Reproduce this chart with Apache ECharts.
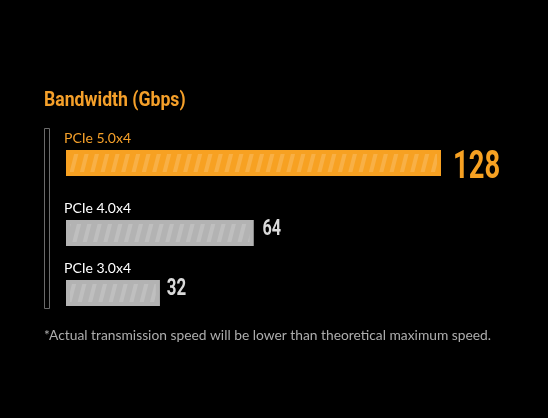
<!DOCTYPE html>
<html>
<head>
<meta charset="utf-8">
<script src="https://cdn.jsdelivr.net/npm/echarts@6/dist/echarts.min.js"></script>
<style>
html,body{margin:0;padding:0;background:#000;}
#c{width:548px;height:418px;}
</style>
</head>
<body>
<div id="c"></div>
<script>
const titleText = 'Bandwidth (Gbps)';
const noteText = '*Actual transmission speed will be lower than theoretical maximum speed.';
const categories = ['PCIe 5.0x4', 'PCIe 4.0x4', 'PCIe 3.0x4'];
const values = [128, 64, 32];
const axisMax = 128;

// styles / layout (not data)
const barColors = ['#F7A122', '#B3B3B3', '#B3B3B3'];
const nameColors = ['#F5A02A', '#FFFFFF', '#FFFFFF'];
const valueColors = ['#F7A122', '#DADADA', '#DADADA'];
const valueSizes = [38, 22.5, 23.5];
const valueGaps = [10, 7, 5];
const valueDy = [5, -4, -4];
const gridTops = [148, 218, 278];
const narrowScale = 0.72;

const chart = echarts.init(document.getElementById('c'));
const grids = [], xAxes = [], yAxes = [], series = [];
categories.forEach((cat, i) => {
  grids.push({left: 66, right: 107, top: gridTops[i], height: 30});
  xAxes.push({type: 'value', gridIndex: i, min: 0, max: axisMax, show: false});
  yAxes.push({
    type: 'category', gridIndex: i, data: [cat],
    axisLine: {show: false}, axisTick: {show: false}, axisLabel: {show: false},
    splitLine: {show: false},
    name: cat, nameLocation: 'end', nameGap: 3,
    nameTextStyle: {align: 'left', verticalAlign: 'bottom', color: nameColors[i],
      fontSize: 14, fontFamily: 'Lato', padding: [0, 0, 0, -2]}
  });
  series.push({
    type: 'bar', xAxisIndex: i, yAxisIndex: i, data: [values[i]],
    barWidth: 26, silent: true, animation: false,
    itemStyle: {
      color: barColors[i], borderColor: barColors[i], borderWidth: 4,
      decal: {
        symbol: 'rect', symbolSize: 1,
        dashArrayX: [4, 6], dashArrayY: [20, 0],
        rotation: 0.25,
        color: 'rgba(255,255,255,0.16)'
      }
    }
  });
  // value label, placed through the axis scale, drawn condensed
  series.push({
    type: 'custom', xAxisIndex: i, yAxisIndex: i, silent: true, animation: false,
    data: [[values[i], 0]],
    renderItem: function (params, api) {
      const p = api.coord([api.value(0), api.value(1)]);
      return {
        type: 'text',
        x: p[0] + 2 + valueGaps[i],
        y: p[1] + valueDy[i],
        scaleX: narrowScale,
        style: {
          text: String(api.value(0)),
          font: 'bold ' + valueSizes[i] + 'px Roboto',
          fill: valueColors[i],
          verticalAlign: 'middle',
          align: 'left'
        }
      };
    }
  });
});

chart.setOption({
  backgroundColor: '#000',
  animation: false,
  aria: {enabled: true, decal: {show: true}},
  title: [
    {text: noteText, left: 39, top: 324,
      textStyle: {color: '#ADADAD', fontSize: 13.8, fontWeight: 'normal', fontFamily: 'Lato'}}
  ],
  graphic: [
    {type: 'text', x: 44, y: 101, scaleX: 0.84, silent: true,
      style: {text: titleText, font: 'bold 21px Roboto', fill: '#F5A02A',
        verticalAlign: 'middle', align: 'left'}},
    {type: 'rect', shape: {x: 44.5, y: 128.5, width: 5, height: 180},
      style: {fill: 'none', stroke: '#6A6A6A', lineWidth: 1}, silent: true}
  ],
  grid: grids, xAxis: xAxes, yAxis: yAxes, series: series
});
</script>
</body>
</html>
